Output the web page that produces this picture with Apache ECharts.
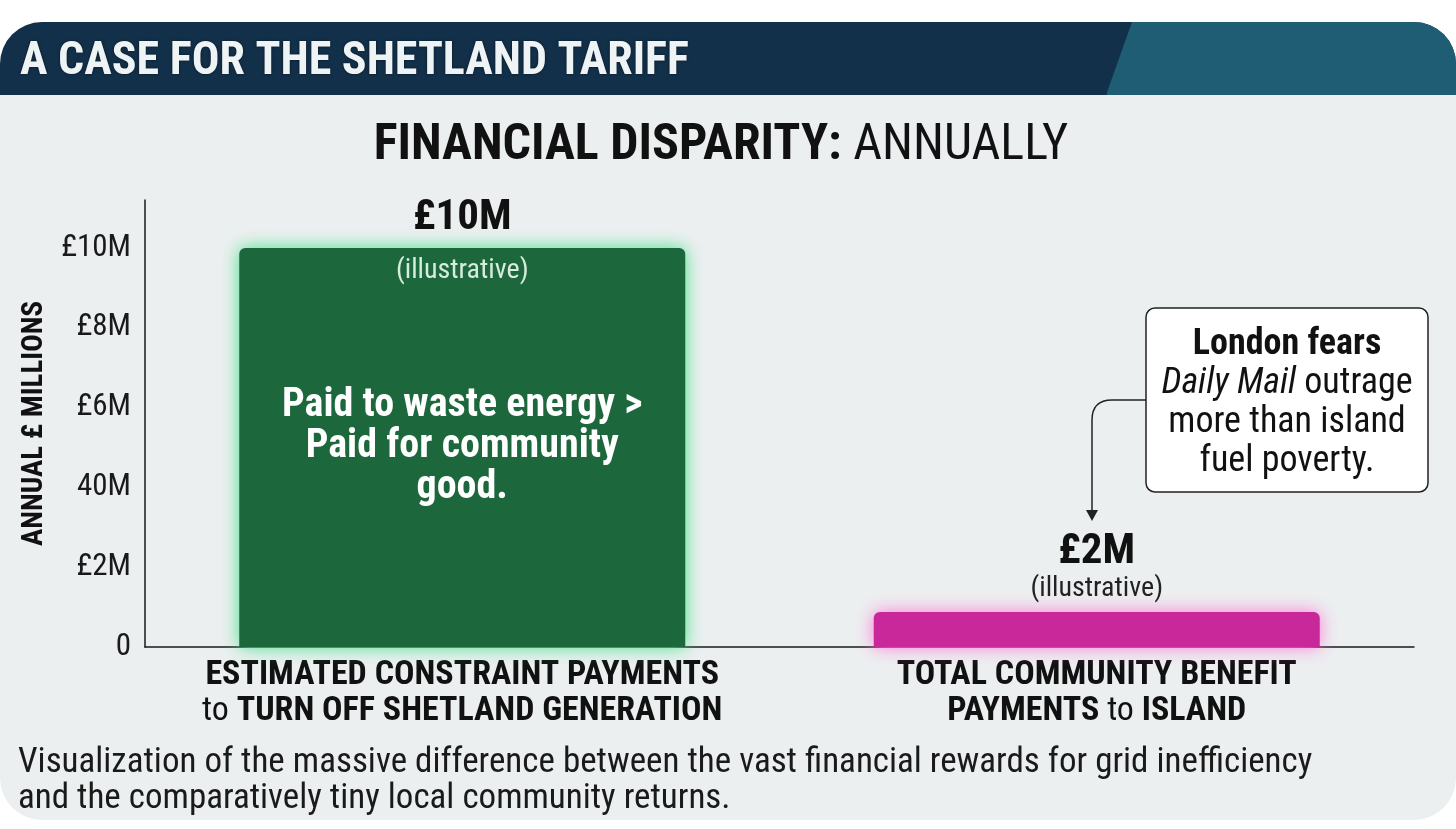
<!DOCTYPE html>
<html><head><meta charset="utf-8">
<script src="https://cdn.jsdelivr.net/npm/echarts@6/dist/echarts.min.js"></script>
<style>html,body{margin:0;padding:0;background:#fff;}#c{width:1456px;height:829px;}</style>
</head><body><div id="c"></div>
<script>
const categories = ['ESTIMATED CONSTRAINT PAYMENTS|to TURN OFF SHETLAND GENERATION', 'TOTAL COMMUNITY BENEFIT|PAYMENTS to ISLAND'];
const values = [10.0, 0.88];
const valueLabels = ['£10M', '£2M'];
const noteLabels = ['(illustrative)', '(illustrative)'];
const barColors = ['#1d673d', '#c8289a'];
const glowColors = ['#45e08a', '#ff79d6'];
const insideText = ['Paid to waste energy >\nPaid for community\ngood.', ''];
const tickValues = [0, 2, 4, 6, 8, 10];
const tickLabels = ['0', '£2M', '40M', '£6M', '£8M', '£10M'];

const FONT = '"Roboto Condensed","Liberation Sans Narrow","DejaVu Sans Condensed",sans-serif';
const chart = echarts.init(document.getElementById('c'));

function catLabel(v) {
  const [l1, l2] = v.split('|');
  const fmt = s => s.split(/(\bto\b)/).map(p => p === 'to' ? '{r|to}' : (p ? '{b|' + p + '}' : '')).join('');
  return fmt(l1) + '\n' + fmt(l2);
}

const option = {
  backgroundColor: '#ffffff',
  animation: false,
  textStyle: { fontFamily: FONT },
  grid: { left: 145, right: 42, top: 200, bottom: 182 },
  xAxis: {
    type: 'category',
    data: categories,
    axisLine: { lineStyle: { color: '#1a1a1a', width: 1.5 } },
    axisTick: { show: false },
    axisLabel: {
      margin: 10,
      formatter: catLabel,
      rich: {
        b: { fontFamily: FONT, fontWeight: 'bold', fontSize: 34, color: '#111', lineHeight: 36 },
        r: { fontFamily: FONT, fontWeight: 'normal', fontSize: 34, color: '#111', lineHeight: 36 }
      }
    }
  },
  yAxis: {
    type: 'value', min: 0, max: 11.2, interval: 2,
    name: 'ANNUAL £ MILLIONS', nameLocation: 'middle', nameGap: 96, nameRotate: 90,
    nameTextStyle: { fontFamily: FONT, fontWeight: 'bold', fontSize: 29, color: '#111' },
    axisLine: { show: true, lineStyle: { color: '#1a1a1a', width: 1.5 } },
    axisTick: { show: false },
    splitLine: { show: false },
    axisLabel: {
      margin: 14, fontSize: 31, color: '#1a1a1a', fontFamily: FONT, showMaxLabel: false,
      formatter: v => { const i = tickValues.indexOf(v); return i >= 0 ? tickLabels[i] : ''; }
    }
  },
  series: [
    {
      type: 'bar', barWidth: 446, barGap: '-100%', z: 3,
      data: values.map((v, i) => ({
        value: v,
        itemStyle: { color: barColors[i], borderRadius: [6, 6, 0, 0], shadowBlur: 18, shadowColor: glowColors[i] }
      })),
      label: {
        show: true, position: 'top', distance: 8,
        formatter: p => p.dataIndex === 0 ? '{v|' + valueLabels[0] + '}' : '{v|' + valueLabels[p.dataIndex] + '}\n{s|' + noteLabels[p.dataIndex] + '}',
        rich: {
          v: { fontFamily: FONT, fontWeight: 'bold', fontSize: 43, color: '#111', lineHeight: 44 },
          s: { fontFamily: FONT, fontSize: 28, color: '#222', lineHeight: 30 }
        }
      }
    },
    {
      type: 'bar', barWidth: 446, barGap: '-100%', z: 4,
      data: values.map(v => ({ value: v, itemStyle: { color: 'rgba(0,0,0,0)' } })),
      label: {
        show: true, position: 'insideTop', distance: 9,
        formatter: p => p.dataIndex === 0 ? noteLabels[0] : '',
        fontFamily: FONT, fontSize: 28, color: '#d6ecdc'
      }
    },
    {
      type: 'bar', barWidth: 446, barGap: '-100%', z: 5,
      data: values.map(v => ({ value: v, itemStyle: { color: 'rgba(0,0,0,0)' } })),
      label: {
        show: true, position: 'inside',
        formatter: p => insideText[p.dataIndex],
        fontFamily: FONT, fontWeight: 'bold', fontSize: 40, lineHeight: 41, color: '#ffffff', align: 'center'
      }
    }
  ],
  graphic: [
    { type: 'rect', z: -10, shape: { x: 0, y: 22, width: 1456, height: 798, r: 42 }, style: { fill: '#eceff0' } },
    { type: 'rect', z: -9, shape: { x: 0, y: 22, width: 1456, height: 73, r: [42, 42, 0, 0] }, style: { fill: '#13304a' } },
    { type: 'rect', z: -8, shape: { x: 1107, y: 22, width: 349, height: 73, r: [0, 42, 0, 0] }, style: { fill: '#1f5d75' } },
    { type: 'polygon', z: -7, shape: { points: [[1106, 22], [1132, 22], [1106, 95]] }, style: { fill: '#13304a' } },
    { type: 'text', z: 10, x: 20, y: 62,
      style: { text: 'A CASE FOR THE SHETLAND TARIFF', verticalAlign: 'middle', fontFamily: FONT, fontWeight: 'bold', fontSize: 46, fill: '#eef3f5',
               textShadowColor: 'rgba(0,0,0,0.6)', textShadowBlur: 3 } },
    { type: 'text', z: 10, x: 721, y: 146,
      style: { text: '{b|FINANCIAL DISPARITY: }{r|ANNUALLY}', align: 'center', verticalAlign: 'middle',
               rich: { b: { fontFamily: FONT, fontWeight: 'bold', fontSize: 50, fill: '#111' },
                       r: { fontFamily: FONT, fontSize: 50, fill: '#111' } } } },
    { type: 'rect', z: 10, shape: { x: 1146, y: 308, width: 282, height: 184, r: 9 }, style: { fill: '#ffffff', stroke: '#222', lineWidth: 1.5 } },
    { type: 'text', z: 11, x: 1287, y: 403,
      style: { text: '{b|London fears}\n{i|Daily Mail}{r| outrage}\n{r|more than island}\n{r|fuel poverty.}',
               align: 'center', verticalAlign: 'middle',
               rich: { b: { fontFamily: FONT, fontWeight: 'bold', fontSize: 36, lineHeight: 39, fill: '#111' },
                       i: { fontFamily: FONT, fontStyle: 'italic', fontSize: 36, lineHeight: 39, fill: '#111' },
                       r: { fontFamily: FONT, fontSize: 36, lineHeight: 39, fill: '#111' } } } },
    { type: 'line', z: 10, shape: { x1: 1146, y1: 400, x2: 1112, y2: 400 }, style: { stroke: '#222', lineWidth: 1.5 } },
    { type: 'bezierCurve', z: 10, shape: { x1: 1112, y1: 400, x2: 1092, y2: 420, cpx1: 1092, cpy1: 400 }, style: { fill: 'none', stroke: '#222', lineWidth: 1.5 } },
    { type: 'line', z: 10, shape: { x1: 1092, y1: 420, x2: 1092, y2: 512 }, style: { stroke: '#222', lineWidth: 1.5 } },
    { type: 'polygon', z: 10, shape: { points: [[1086, 510], [1098, 510], [1092, 521]] }, style: { fill: '#222' } },
    { type: 'text', z: 10, x: 18, y: 781,
      style: { text: 'Visualization of the massive difference between the vast financial rewards for grid inefficiency\nand the comparatively tiny local community returns.',
               verticalAlign: 'middle', fontFamily: FONT, fontSize: 35, lineHeight: 36, fill: '#1a1a1a' } }
  ]
};
chart.setOption(option);
</script></body></html>
